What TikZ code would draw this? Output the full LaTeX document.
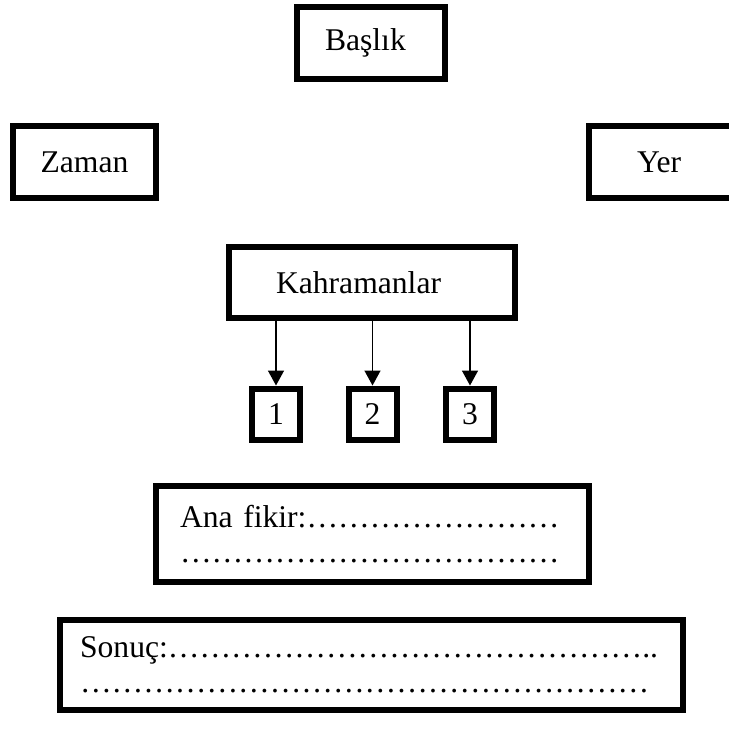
\documentclass[tikz,border=0pt]{standalone}
\usepackage{fontspec}
\setmainfont{Liberation Serif}
\usetikzlibrary{arrows.meta}

\begin{document}
\begin{tikzpicture}[x=0.02cm,y=-0.02cm,
  kutu/.style={draw,line width=0.12cm,inner sep=0pt,font=\fontsize{18}{20}\selectfont},
  ok/.style={line width=0.03cm,-{Triangle[width=0.32cm,length=0.3cm]}}]
  \useasboundingbox (0,0) rectangle (728,729);
  \node[kutu,minimum width=2.96cm,minimum height=1.44cm,text width=1.84cm,inner xsep=0.56cm,align=left] (baslik) at (371,43) {Başlık};
  \node[kutu,minimum width=2.86cm,minimum height=1.44cm] (zaman) at (84.5,162) {Zaman};
  \node[kutu,minimum width=3.02cm,minimum height=1.44cm,text width=1.1cm,inner xsep=0.96cm,align=left] (yer) at (664.5,162) {Yer};
  \node[kutu,minimum width=5.72cm,minimum height=1.42cm,text width=3.84cm,inner xsep=0.94cm,align=left] (kahraman) at (372,282.5) {Kahramanlar};
  \node[kutu,minimum width=0.96cm,minimum height=1.04cm] (k1) at (276,414.5) {1};
  \node[kutu,minimum width=0.96cm,minimum height=1.04cm] (k2) at (372.5,414.5) {2};
  \node[kutu,minimum width=0.96cm,minimum height=1.04cm] (k3) at (470,414.5) {3};
  \node[kutu,text width=7.7cm,inner xsep=0.48cm,minimum height=1.92cm,align=left] (fikir) at (372.5,534)
    {Ana fikir:%
     …………%
     …………\\%
     …………%
     …………%
     …………};
  \node[kutu,text width=11.66cm,inner xsep=0.4cm,minimum height=1.8cm,align=left] (sonuc) at (371.5,665)
    {Sonuç:%
     …………%
     …………%
     …………%
     ………..\\%
     …………%
     …………%
     …………%
     …………%
     ……};
  \draw[ok] (kahraman.south -| k1) -- (k1.north);
  \draw[ok] (kahraman.south -| k2) -- (k2.north);
  \draw[ok] (kahraman.south -| k3) -- (k3.north);
\end{tikzpicture}
\end{document}
